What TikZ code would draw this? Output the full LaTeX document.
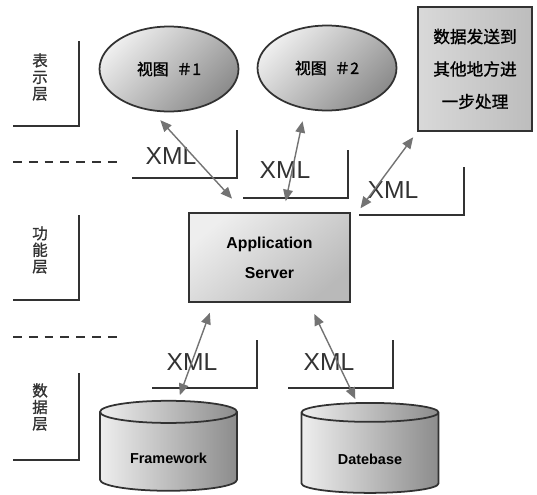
\documentclass[tikz,border=0pt]{standalone}
\usepackage{fontspec}
\setmainfont{Liberation Sans}
\newfontfamily\cjk{Noto Sans CJK SC}
\newfontfamily\cjkbold{Noto Sans CJK SC}[FakeBold=1.2]
\definecolor{inkgray}{RGB}{50, 50, 50}
\definecolor{arrowgray}{RGB}{115, 115, 115}
\definecolor{shadelight}{RGB}{238, 238, 238}
\definecolor{shadedark}{RGB}{140, 140, 140}
\usetikzlibrary{arrows.meta, positioning, shapes.geometric}

\begin{document}
\begin{tikzpicture}[x=0.02cm, y=-0.02cm,
    layerlabel/.style={inkgray, align=center, font=\cjkbold\fontsize{8.8}{9.4}\selectfont},
    layerbracket/.style={inkgray, line width=1pt},
    layersep/.style={inkgray, line width=1.6pt, dash pattern=on 5pt off 4pt},
    viewnode/.style={ellipse, draw=inkgray, line width=1pt, minimum width=2.78cm, minimum height=1.7cm,
        top color=shadelight, bottom color=shadedark, shading angle=45, font=\cjkbold\fontsize{9}{10}\selectfont},
    boxnode/.style={rectangle, draw=inkgray, line width=1pt, align=center},
    dbnode/.style={cylinder, shape border rotate=90, aspect=0.25, draw=inkgray, line width=1pt,
        minimum width=2.74cm, minimum height=1.8cm, left color=shadelight, right color=shadedark,
        text height=6pt, text depth=0pt, font=\bfseries\fontsize{8.2}{10}\selectfont},
    xmltag/.style={inkgray, font=\fontsize{14}{16}\selectfont},
    xmlarrow/.style={arrowgray, line width=0.8pt, {Triangle[length=6.5pt,width=5.5pt]}-{Triangle[length=6.5pt,width=5.5pt]}}]
    \useasboundingbox (0,0) rectangle (537,494);

    % Layers on the left
    \node[layerlabel] (pres) at (40,77) {表\\示\\层};
    \node[layerlabel] (func) at (40,250) {功\\能\\层};
    \node[layerlabel] (data) at (40,407) {数\\据\\层};
    \draw[layerbracket] (79,41) |- (13,126);
    \draw[layerbracket] (79,215) |- (13,300);
    \draw[layerbracket] (79,373) |- (13,460);
    \draw[layersep] (13,162) -- (122,162);
    \draw[layersep] (13,337) -- (122,337);

    % Presentation layer
    \node[viewnode] (view1) at (169,69) {视图\enspace＃1};
    \node[viewnode] (view2) at (327,68) {视图\enspace＃2};
    \node[boxnode, minimum width=2.28cm, minimum height=2.48cm, left color=gray!30, right color=gray!52,
        font=\cjkbold\fontsize{9.5}{18.5}\selectfont] (fwd) at (475,69) {数据发送到\\其他地方进\\一步处理};

    % Application server
    \node[boxnode, minimum width=3.22cm, minimum height=1.78cm, top color=shadelight, bottom color=gray!55,
        shading angle=40, font=\bfseries\fontsize{9}{17}\selectfont] (app) at (269.5,257.5) {Application\\Server};

    % Data layer
    \node[dbnode] (fw) at (168.5,454) {\raisebox{-2.5pt}{Framework}};
    \node[dbnode] (db) at (370,455) {\raisebox{-2.5pt}{Datebase}};

    % XML labels and their brackets
    \node[xmltag] (xml1) at (171,156) {XML};
    \node[xmltag] (xml2) at (285,170) {XML};
    \node[xmltag] (xml3) at (393,190) {XML};
    \node[xmltag] (xml4) at (192,362) {XML};
    \node[xmltag] (xml5) at (329,362) {XML};
    \draw[layerbracket] (237,130) |- (132,178);
    \draw[layerbracket] (348,150) |- (243,198);
    \draw[layerbracket] (464,167) |- (359,215);
    \draw[layerbracket] (257,340) |- (152,388);
    \draw[layerbracket] (393,340) |- (288,388);

    % XML exchange
    \draw[xmlarrow, shorten <=7pt, shorten >=10.4pt] (view1.-112) -- (app.119);
    \draw[xmlarrow, shorten <=7pt, shorten >=6.4pt] (view2.-118) -- (app.73.5);
    \draw[xmlarrow, shorten <=3.8pt, shorten >=9.2pt] (fwd.south west) -- (app.24.4);
    \draw[xmlarrow, shorten <=6pt, shorten >=3pt] (app.-141.4) -- (fw.80);
    \draw[xmlarrow, shorten <=7pt, shorten >=2pt] (app.-49.7) -- (db.104);
\end{tikzpicture}
\end{document}
